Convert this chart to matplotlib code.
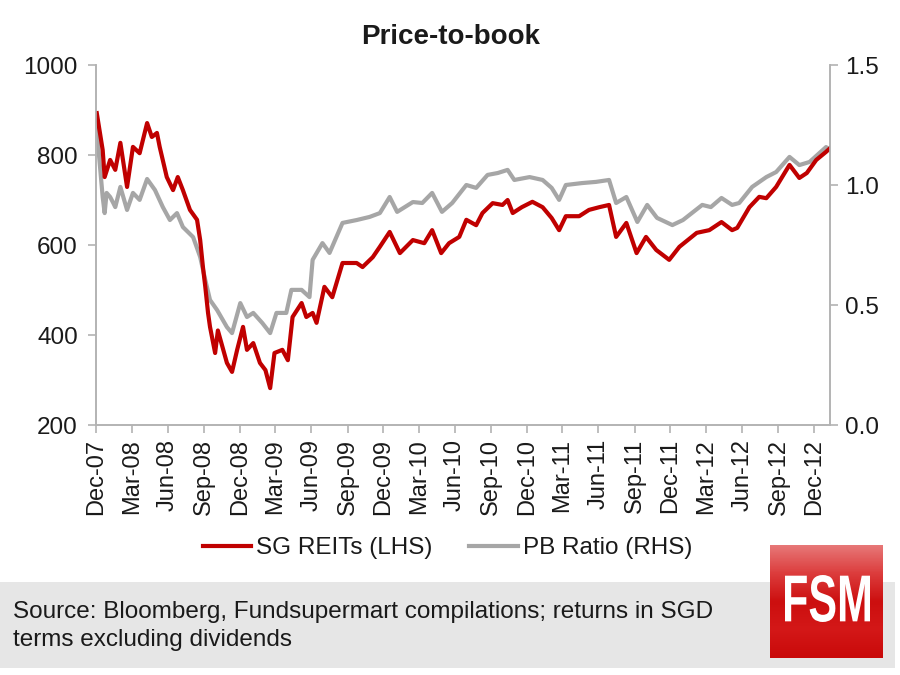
import pandas as pd
import numpy as np
import matplotlib
matplotlib.use("Agg")
import matplotlib.pyplot as plt
import matplotlib.dates as mdates
from matplotlib.patches import Rectangle, PathPatch
from matplotlib.colors import LinearSegmentedColormap
from matplotlib.textpath import TextPath
from matplotlib.font_manager import FontProperties
from matplotlib.transforms import Affine2D

plt.rcParams['font.family'] = ['Liberation Sans', 'DejaVu Sans']

# ===============================
# DATA
# ===============================

reit_dates = [
    "2007-12-03", "2007-12-18", "2007-12-23", "2008-01-06", "2008-01-19", "2008-02-01",
    "2008-02-18", "2008-03-04", "2008-03-21", "2008-04-09", "2008-04-21", "2008-05-04",
    "2008-05-11", "2008-05-29", "2008-06-14", "2008-06-26", "2008-07-09", "2008-07-27",
    "2008-08-14", "2008-08-22", "2008-08-29", "2008-09-04", "2008-09-11", "2008-09-16",
    "2008-09-29", "2008-10-06", "2008-10-29", "2008-11-11", "2008-11-24", "2008-12-09",
    "2008-12-19", "2009-01-04", "2009-01-21", "2009-02-04", "2009-02-16", "2009-02-27",
    "2009-03-19", "2009-04-02", "2009-04-14", "2009-05-07", "2009-05-19", "2009-06-04",
    "2009-06-14", "2009-07-04", "2009-07-24", "2009-08-19", "2009-09-24", "2009-10-09",
    "2009-11-04", "2009-11-22", "2009-12-17", "2010-01-12", "2010-02-14", "2010-03-15",
    "2010-04-04", "2010-04-27", "2010-05-17", "2010-06-12", "2010-06-30", "2010-07-25",
    "2010-08-10", "2010-09-05", "2010-09-30", "2010-10-13", "2010-10-26", "2010-11-18",
    "2010-12-15", "2011-01-10", "2011-02-02", "2011-02-21", "2011-03-10", "2011-04-13",
    "2011-05-08", "2011-06-03", "2011-06-28", "2011-07-16", "2011-08-11", "2011-09-06",
    "2011-09-30", "2011-10-26", "2011-11-28", "2011-12-24", "2012-02-06", "2012-03-09",
    "2012-04-09", "2012-05-06", "2012-05-19", "2012-06-19", "2012-07-14", "2012-08-01",
    "2012-08-26", "2012-09-29", "2012-10-24", "2012-11-12", "2012-12-06", "2012-12-31",
    "2013-01-10",
]
reit_vals = [
    893, 811, 751, 789, 767, 827,
    729, 818, 804, 871, 840, 849,
    818, 751, 722, 751, 722, 678,
    656, 611, 551, 507, 449, 418,
    360, 410, 338, 318, 367, 418,
    367, 382, 338, 322, 282, 360,
    367, 344, 440, 471, 440, 449,
    427, 507, 484, 560, 560, 551,
    573, 596, 629, 582, 611, 604,
    633, 582, 604, 618, 656, 644,
    671, 693, 689, 700, 671, 684,
    696, 684, 660, 633, 664, 664,
    678, 684, 689, 618, 649, 582,
    618, 589, 567, 596, 627, 633,
    651, 633, 638, 684, 707, 704,
    729, 778, 749, 760, 789, 807,
    815,
]

pb_dates = [
    "2007-12-03", "2007-12-18", "2007-12-23", "2007-12-28", "2008-01-06", "2008-01-14",
    "2008-01-19", "2008-02-01", "2008-02-18", "2008-03-04", "2008-03-21", "2008-04-09",
    "2008-04-29", "2008-05-19", "2008-06-06", "2008-06-24", "2008-07-09", "2008-08-04",
    "2008-08-22", "2008-09-04", "2008-09-16", "2008-10-04", "2008-10-29", "2008-11-11",
    "2008-12-02", "2008-12-19", "2009-01-04", "2009-01-27", "2009-02-16", "2009-03-04",
    "2009-03-29", "2009-04-11", "2009-05-07", "2009-05-27", "2009-06-04", "2009-06-29",
    "2009-07-17", "2009-08-19", "2009-09-24", "2009-10-27", "2009-11-22", "2009-12-17",
    "2010-01-05", "2010-02-14", "2010-03-10", "2010-04-04", "2010-04-29", "2010-05-25",
    "2010-06-30", "2010-07-25", "2010-08-23", "2010-09-18", "2010-10-13", "2010-10-30",
    "2010-12-08", "2011-01-10", "2011-02-02", "2011-02-21", "2011-03-10", "2011-04-20",
    "2011-05-26", "2011-06-28", "2011-07-16", "2011-08-11", "2011-09-08", "2011-10-03",
    "2011-10-28", "2011-12-06", "2012-01-02", "2012-02-20", "2012-03-13", "2012-04-09",
    "2012-05-06", "2012-05-24", "2012-06-26", "2012-08-01", "2012-08-26", "2012-09-29",
    "2012-10-24", "2012-11-19", "2012-12-14", "2012-12-31", "2013-01-10",
]
pb_vals = [
    1.229, 0.950, 0.883, 0.967, 0.950, 0.925,
    0.908, 0.992, 0.896, 0.967, 0.938, 1.025,
    0.979, 0.908, 0.854, 0.883, 0.825, 0.783,
    0.700, 0.604, 0.521, 0.479, 0.408, 0.383,
    0.508, 0.450, 0.467, 0.425, 0.383, 0.467,
    0.467, 0.563, 0.563, 0.533, 0.688, 0.758,
    0.717, 0.842, 0.854, 0.867, 0.883, 0.950,
    0.888, 0.929, 0.925, 0.967, 0.888, 0.925,
    1.000, 0.988, 1.042, 1.050, 1.063, 1.021,
    1.033, 1.021, 0.988, 0.938, 1.000, 1.008,
    1.013, 1.021, 0.925, 0.950, 0.846, 0.917,
    0.863, 0.833, 0.854, 0.917, 0.908, 0.946,
    0.917, 0.925, 0.992, 1.033, 1.054, 1.117,
    1.083, 1.096, 1.133, 1.158, 1.146,
]

left_ticks = [200, 400, 600, 800, 1000]
right_ticks = [0.0, 0.5, 1.0, 1.5]

reit = pd.DataFrame({"date": pd.to_datetime(reit_dates), "val": reit_vals})
pb = pd.DataFrame({"date": pd.to_datetime(pb_dates), "val": pb_vals})

RED = "#c00000"
GREY = "#a6a6a6"
SPINE = "#b3b3b3"
TXT = "#1a1a1a"

# ===============================
# FIGURE
# ===============================

fig = plt.figure(figsize=(9, 6.75), dpi=100)
fig.patch.set_facecolor("white")

# footer band with source note (behind everything)
fig.patches.append(Rectangle((0, 1-668/675), 895/900, (668-582)/675,
                             transform=fig.transFigure, facecolor="#e6e6e6",
                             edgecolor="none", zorder=-5))

ax = fig.add_axes([96/900, 1-425/675, (830-96)/900, (425-65)/675])
ax2 = ax.twinx()

l1, = ax.plot(reit["date"], reit["val"], color=RED, linewidth=3, label="SG REITs (LHS)")
l2, = ax2.plot(pb["date"], pb["val"], color=GREY, linewidth=3, label="PB Ratio (RHS)")

# red series drawn above grey one
ax.set_zorder(ax2.get_zorder() + 1)
ax.patch.set_visible(False)

ax.set_xlim(pd.Timestamp("2007-12-01"), pd.Timestamp("2013-01-10"))
ax.set_ylim(200, 1000)
ax2.set_ylim(0, 1.5)
ax.set_yticks(left_ticks)
ax2.set_yticks(right_ticks)
ax2.set_yticklabels([f"{t:.1f}" for t in right_ticks])

ax.xaxis.set_major_locator(mdates.MonthLocator(bymonth=[3, 6, 9, 12]))
ax.xaxis.set_major_formatter(mdates.DateFormatter("%b-%y"))
plt.setp(ax.get_xticklabels(), rotation=90)

for a in (ax, ax2):
    a.spines['top'].set_visible(False)
    for s in ('left', 'right', 'bottom'):
        a.spines[s].set_color(SPINE)
        a.spines[s].set_linewidth(1.2)
    a.tick_params(axis='both', direction='out', color=SPINE, length=6, width=1.2,
                  labelsize=17.5, labelcolor=TXT, pad=5)

ax.tick_params(axis='y', pad=7)
ax.tick_params(axis='x', labelsize=17, pad=4)

fig.text(451/900, 1-37/675, "Price-to-book", ha='center', va='center',
         fontsize=20, fontweight='bold', color=TXT)

fig.legend(handles=[l1, l2], loc='center', bbox_to_anchor=(0.497, 1-548/675),
           ncol=2, frameon=False, fontsize=17.5, handlelength=2.0,
           handletextpad=0.2, columnspacing=1.5, labelcolor=TXT)

fig.text(13/900, 1-612/675, "Source: Bloomberg, Fundsupermart compilations; returns in SGD",
         ha='left', va='center', fontsize=17.5, color=TXT)
fig.text(13/900, 1-640/675, "terms excluding dividends",
         ha='left', va='center', fontsize=17.5, color=TXT)

# FSM logo (pixel coordinates inside the logo box, 113 x 113)
logo = fig.add_axes([770/900, 1-658/675, (883-770)/900, (658-545)/675])
logo.set_zorder(10)
grad = np.linspace(0, 1, 100).reshape(-1, 1)
cmap = LinearSegmentedColormap.from_list("fsm", ["#e77777", "#dc3c3c", "#cc0f0f", "#d41818", "#c90a0a"])
logo.imshow(grad, cmap=cmap, aspect='auto', extent=[0, 113, 0, 113], origin='upper')
logo.set_xlim(0, 113)
logo.set_ylim(0, 113)

tp = TextPath((0, 0), "FSM", size=60, prop=FontProperties(family='Liberation Sans', weight='bold'))
bb = tp.get_extents()
tr = Affine2D().translate(-bb.x0, -bb.y0).scale(85 / bb.width, 47 / bb.height).translate(15, 36)
logo.add_patch(PathPatch(tr.transform_path(tp), facecolor="white", edgecolor="none"))

logo.set_xticks([])
logo.set_yticks([])
for s in logo.spines.values():
    s.set_visible(False)

fig.savefig("out.png", dpi=100)
